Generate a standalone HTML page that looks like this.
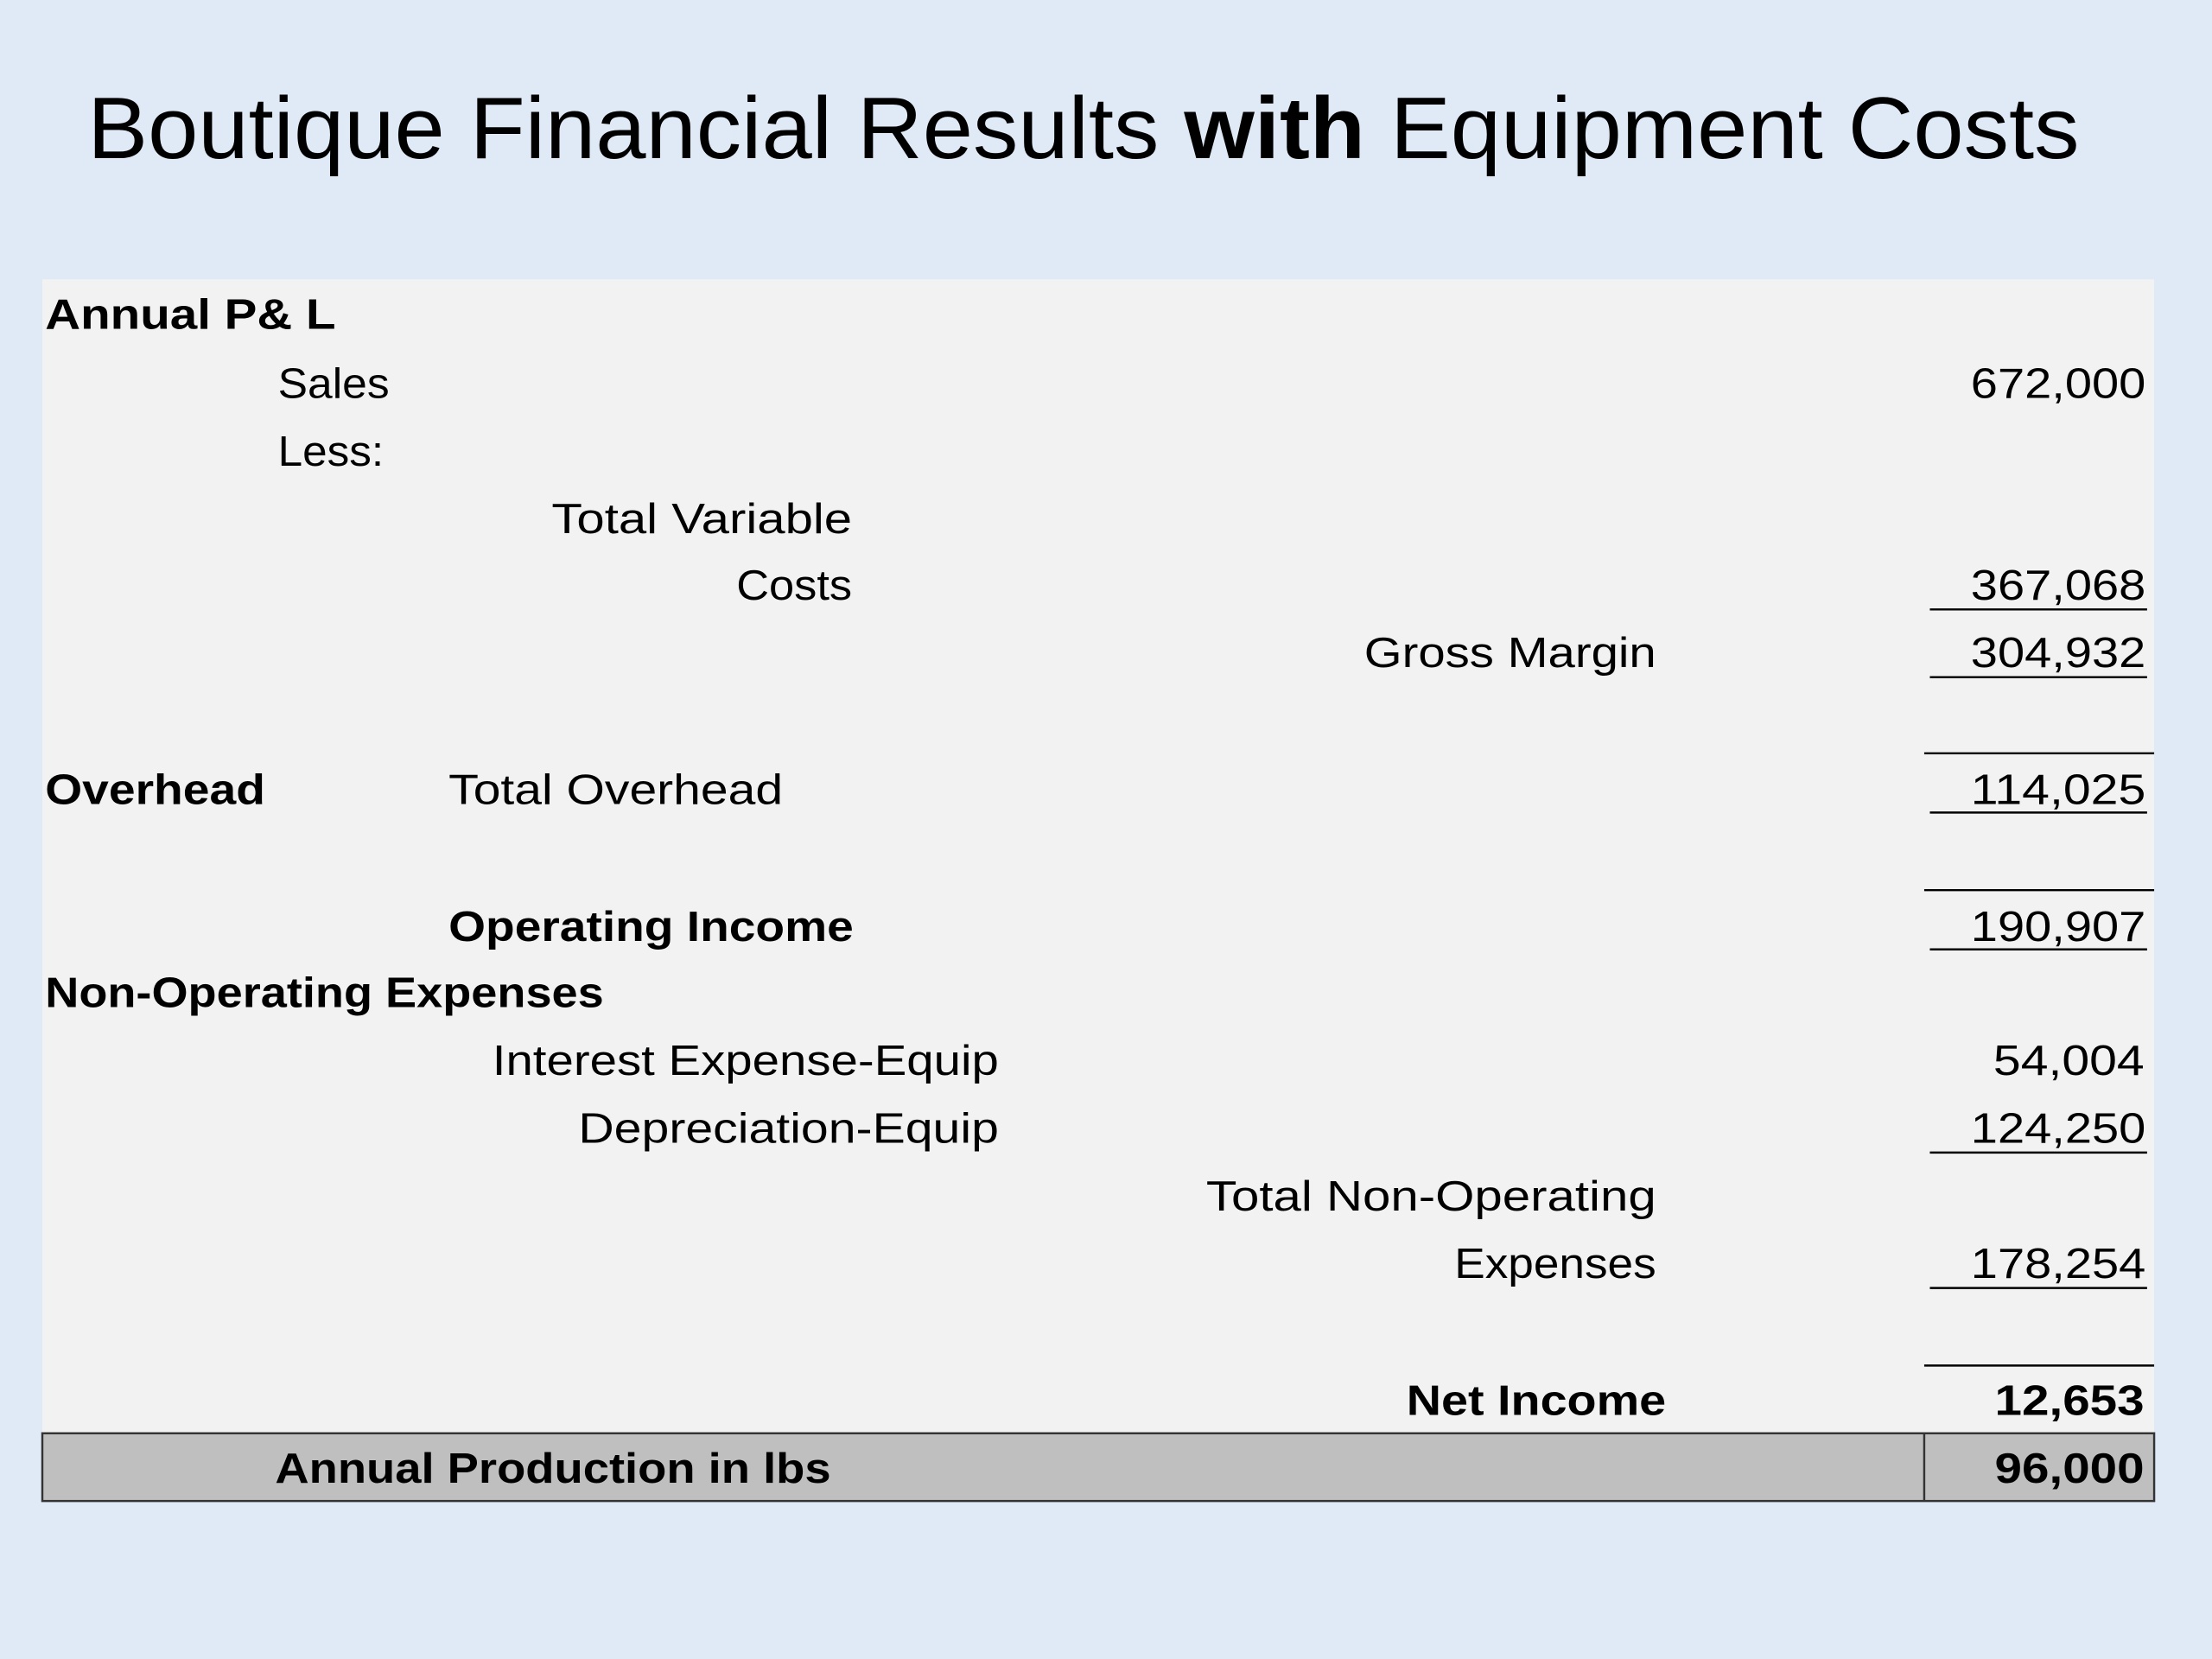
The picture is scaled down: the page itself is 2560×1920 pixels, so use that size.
<!DOCTYPE html>
<html><head><meta charset="utf-8"><style>
html,body{margin:0;padding:0;background:#dfeaf6;}
svg{display:block;}
text{font-family:"Liberation Sans",sans-serif;fill:#000;}
</style></head><body>
<svg width="2560" height="1920" viewBox="0 0 1568 1176" xmlns="http://www.w3.org/2000/svg">
<rect x="0" y="0" width="1568" height="1176" fill="#dfeaf6"/>
<text x="62" y="112" font-size="62" textLength="1412" lengthAdjust="spacingAndGlyphs">Boutique Financial Results <tspan font-weight="bold">with</tspan> Equipment Costs</text>
<rect x="30" y="198" width="1497" height="818" fill="#f2f2f2"/>
<g font-size="30">
<text x="32" y="233" font-weight="bold" textLength="206" lengthAdjust="spacingAndGlyphs">Annual  P&amp; L</text>
<text x="197" y="282" textLength="79" lengthAdjust="spacingAndGlyphs">Sales</text>
<text x="1521" y="282" text-anchor="end" textLength="124" lengthAdjust="spacingAndGlyphs">672,000</text>
<text x="197" y="330" textLength="75" lengthAdjust="spacingAndGlyphs">Less:</text>
<text x="604" y="378" text-anchor="end" textLength="213" lengthAdjust="spacingAndGlyphs">Total Variable</text>
<text x="604" y="425" text-anchor="end" textLength="82" lengthAdjust="spacingAndGlyphs">Costs</text>
<text x="1521" y="425" text-anchor="end" textLength="124" lengthAdjust="spacingAndGlyphs">367,068</text>
<text x="1174" y="473" text-anchor="end" textLength="207" lengthAdjust="spacingAndGlyphs">Gross Margin</text>
<text x="1521" y="473" text-anchor="end" textLength="124" lengthAdjust="spacingAndGlyphs">304,932</text>
<text x="32" y="570" font-weight="bold" textLength="156" lengthAdjust="spacingAndGlyphs">Overhead</text>
<text x="318" y="570" textLength="237" lengthAdjust="spacingAndGlyphs">Total Overhead</text>
<text x="1521" y="570" text-anchor="end" textLength="124" lengthAdjust="spacingAndGlyphs">114,025</text>
<text x="318" y="667" font-weight="bold" textLength="287" lengthAdjust="spacingAndGlyphs">Operating Income</text>
<text x="1521" y="667" text-anchor="end" textLength="124" lengthAdjust="spacingAndGlyphs">190,907</text>
<text x="32" y="714" font-weight="bold" textLength="396" lengthAdjust="spacingAndGlyphs">Non-Operating Expenses</text>
<text x="708" y="762" text-anchor="end" textLength="359" lengthAdjust="spacingAndGlyphs">Interest Expense-Equip</text>
<text x="1520" y="762" text-anchor="end" textLength="107" lengthAdjust="spacingAndGlyphs">54,004</text>
<text x="708" y="810" text-anchor="end" textLength="298" lengthAdjust="spacingAndGlyphs">Depreciation-Equip</text>
<text x="1521" y="810" text-anchor="end" textLength="124" lengthAdjust="spacingAndGlyphs">124,250</text>
<text x="1174" y="858" text-anchor="end" textLength="319" lengthAdjust="spacingAndGlyphs">Total Non-Operating</text>
<text x="1174" y="906" text-anchor="end" textLength="143" lengthAdjust="spacingAndGlyphs">Expenses</text>
<text x="1521" y="906" text-anchor="end" textLength="124" lengthAdjust="spacingAndGlyphs">178,254</text>
<text x="1181" y="1003" text-anchor="end" font-weight="bold" textLength="184" lengthAdjust="spacingAndGlyphs">Net Income</text>
<text x="1520" y="1003" text-anchor="end" font-weight="bold" textLength="106" lengthAdjust="spacingAndGlyphs">12,653</text>
</g>
<g stroke="#000" stroke-width="1.5">
<line x1="1368" y1="432" x2="1522" y2="432"/>
<line x1="1368" y1="480" x2="1522" y2="480"/>
<line x1="1364" y1="534" x2="1527" y2="534"/>
<line x1="1368" y1="576" x2="1522" y2="576"/>
<line x1="1364" y1="631" x2="1527" y2="631"/>
<line x1="1368" y1="673" x2="1522" y2="673"/>
<line x1="1368" y1="817" x2="1522" y2="817"/>
<line x1="1368" y1="913" x2="1522" y2="913"/>
<line x1="1364" y1="968" x2="1527" y2="968"/>
</g>
<rect x="30" y="1016" width="1497" height="48" fill="#bfbfbf" stroke="#333" stroke-width="1.5"/>
<line x1="1364" y1="1016" x2="1364" y2="1064" stroke="#333" stroke-width="1.5"/>
<text x="195" y="1051" font-size="30" font-weight="bold" textLength="394" lengthAdjust="spacingAndGlyphs">Annual Production in lbs</text>
<text x="1520" y="1051" font-size="30" font-weight="bold" text-anchor="end" textLength="106" lengthAdjust="spacingAndGlyphs">96,000</text>
</svg>
</body></html>
